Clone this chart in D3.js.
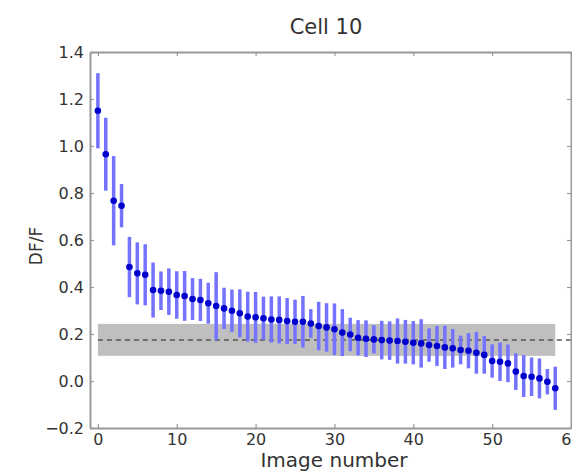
<!DOCTYPE html>
<html>
<head>
<meta charset="utf-8">
<script src="https://cdn.jsdelivr.net/npm/d3@7/dist/d3.min.js"></script>
<style>
  html, body { margin: 0; padding: 0; background: #fff; }
  svg { display: block; font-family: "DejaVu Sans", sans-serif; }
</style>
</head>
<body>
<svg id="chart" width="572" height="472"></svg>
<script>
// Mean DF/F for each image, sorted from strongest to weakest response
const dfValues = [
  1.150, 0.965, 0.767, 0.746, 0.485, 0.458, 0.452, 0.387, 0.384, 0.380,
  0.366, 0.362, 0.349, 0.345, 0.331, 0.319, 0.309, 0.299, 0.288, 0.274,
  0.271, 0.267, 0.262, 0.260, 0.255, 0.252, 0.252, 0.245, 0.234, 0.228,
  0.220, 0.206, 0.198, 0.184, 0.180, 0.177, 0.174, 0.172, 0.170, 0.167,
  0.163, 0.160, 0.153, 0.149, 0.143, 0.139, 0.132, 0.129, 0.120, 0.111,
  0.085, 0.082, 0.075, 0.040, 0.021, 0.018, 0.011, -0.003, -0.031
];
// Symmetric error (half-length of each bar)
const dfErrors = [
  0.160, 0.155, 0.190, 0.092, 0.128, 0.132, 0.130, 0.117, 0.082, 0.099,
  0.101, 0.106, 0.089, 0.090, 0.087, 0.144, 0.088, 0.090, 0.102, 0.106,
  0.108, 0.092, 0.098, 0.100, 0.098, 0.094, 0.110, 0.061, 0.103, 0.103,
  0.110, 0.100, 0.071, 0.075, 0.078, 0.060, 0.082, 0.082, 0.096, 0.093,
  0.092, 0.103, 0.071, 0.085, 0.092, 0.082, 0.061, 0.075, 0.089, 0.080,
  0.071, 0.082, 0.080, 0.078, 0.089, 0.082, 0.085, 0.054, 0.092
];
// Baseline level and its spread (grey band)
const baselineMean = 0.175;
const baselineLow = 0.107;
const baselineHigh = 0.243;
const baselineSpan = [0, 58];

const xTicks = [0, 10, 20, 30, 40, 50, 60];
const yTicks = [-0.2, 0.0, 0.2, 0.4, 0.6, 0.8, 1.0, 1.2, 1.4];
const xDomain = [-1, 60];
const yDomain = [-0.2, 1.4];

const titleText = "Cell 10";
const xLabel = "Image number";
const yLabel = "DF/F";

const svg = d3.select("#chart");
const plotLeft = 90, plotRight = 571, plotTop = 52, plotBottom = 428;

const x = d3.scaleLinear().domain(xDomain).range([plotLeft, plotRight]);
const y = d3.scaleLinear().domain(yDomain).range([plotBottom, plotTop]);

const points = dfValues.map((v, i) => ({ i, v, e: dfErrors[i] }));

// Baseline band and dashed mean line
svg.append("rect")
  .attr("x", x(baselineSpan[0]))
  .attr("width", x(baselineSpan[1]) - x(baselineSpan[0]))
  .attr("y", y(baselineHigh))
  .attr("height", y(baselineLow) - y(baselineHigh))
  .attr("fill", "#bfbfbf");

svg.append("line")
  .attr("x1", x(0)).attr("x2", x(60))
  .attr("y1", y(baselineMean)).attr("y2", y(baselineMean))
  .attr("stroke", "#555").attr("stroke-width", 1.5)
  .attr("stroke-dasharray", "5,4");

// Error bars
svg.append("g").selectAll("line")
  .data(points).join("line")
  .attr("x1", d => x(d.i)).attr("x2", d => x(d.i))
  .attr("y1", d => y(d.v - d.e)).attr("y2", d => y(d.v + d.e))
  .attr("stroke", "#7373ff").attr("stroke-width", 3.5);

// Means
svg.append("g").selectAll("circle")
  .data(points).join("circle")
  .attr("cx", d => x(d.i)).attr("cy", d => y(d.v))
  .attr("r", 3.3)
  .attr("fill", "#0000cc");

// Frame with inward ticks on all four sides
const fmt = d => (d < 0 ? "\u2212" : "") + Math.abs(d).toFixed(1);
const axisColor = "#999";

const axL = svg.append("g").attr("transform", `translate(${plotLeft},0)`)
  .call(d3.axisLeft(y).tickValues(yTicks).tickFormat(fmt).tickSizeInner(-4).tickSizeOuter(0).tickPadding(6));
const axR = svg.append("g").attr("transform", `translate(${plotRight},0)`)
  .call(d3.axisRight(y).tickValues(yTicks).tickFormat("").tickSizeInner(-4).tickSizeOuter(0));
const axB = svg.append("g").attr("transform", `translate(0,${plotBottom})`)
  .call(d3.axisBottom(x).tickValues(xTicks).tickFormat(d3.format("d")).tickSizeInner(-4).tickSizeOuter(0).tickPadding(3));
const axT = svg.append("g").attr("transform", `translate(0,${plotTop})`)
  .call(d3.axisTop(x).tickValues(xTicks).tickFormat("").tickSizeInner(-4).tickSizeOuter(0));

[axL, axR, axB, axT].forEach(g => {
  g.select(".domain").attr("stroke", axisColor).attr("stroke-width", 2);
  g.selectAll(".tick line").attr("stroke", axisColor).attr("stroke-width", 1.2);
  g.selectAll(".tick text")
    .attr("fill", "#333")
    .style("font-family", "'DejaVu Sans', sans-serif")
    .style("font-size", "16px");
});
axB.selectAll(".tick text").attr("dy", "0.9em");

// Titles
svg.append("text")
  .attr("x", 326).attr("y", 34)
  .attr("text-anchor", "middle")
  .attr("fill", "#333")
  .style("font-size", "21px")
  .text(titleText);

svg.append("text")
  .attr("x", 334).attr("y", 466.5)
  .attr("text-anchor", "middle")
  .attr("fill", "#333")
  .style("font-size", "20px")
  .text(xLabel);

svg.append("text")
  .attr("transform", "translate(42,246) rotate(-90)")
  .attr("text-anchor", "middle")
  .attr("fill", "#333")
  .style("font-size", "17px")
  .text(yLabel);
</script>
</body>
</html>
